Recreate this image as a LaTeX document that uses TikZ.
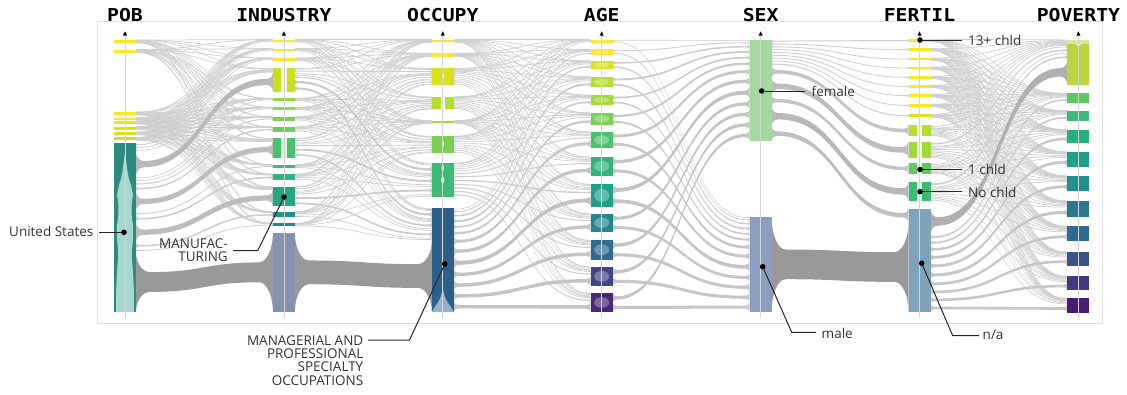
\documentclass[tikz,border=0pt]{standalone}
\usepackage{fontspec}
\setmainfont{Open Sans}
\newfontfamily\titlefont[FakeStretch=1.11]{DejaVu Sans Mono}

\definecolor{vA}{HTML}{FDE725}\definecolor{vB}{HTML}{EAE51A}\definecolor{vC}{HTML}{D8E219}
\definecolor{vD}{HTML}{C8E020}\definecolor{vE}{HTML}{B5DE2B}\definecolor{vF}{HTML}{A0DA39}
\definecolor{vG}{HTML}{8FD744}\definecolor{vH}{HTML}{7AD151}\definecolor{vI}{HTML}{6CCD5A}
\definecolor{vJ}{HTML}{5EC962}\definecolor{vK}{HTML}{4AC16D}\definecolor{vL}{HTML}{3BBB75}
\definecolor{vM}{HTML}{2FB47C}\definecolor{vN}{HTML}{28AE80}\definecolor{vO}{HTML}{22A884}
\definecolor{vP}{HTML}{1FA088}\definecolor{vQ}{HTML}{21918C}\definecolor{vR}{HTML}{25858E}
\definecolor{vS}{HTML}{2A788E}\definecolor{vT}{HTML}{2F6B8E}\definecolor{vU}{HTML}{35608D}
\definecolor{vV}{HTML}{3B528B}\definecolor{vW}{HTML}{414487}\definecolor{vX}{HTML}{453781}
\definecolor{vY}{HTML}{482878}\definecolor{vZ}{HTML}{481F70}
\definecolor{usTeal}{HTML}{2C8A7F}\definecolor{usLight}{HTML}{A9D6D0}
\definecolor{indGrey}{HTML}{8491B0}\definecolor{occBlue}{HTML}{2E5F8A}\definecolor{occLight}{HTML}{95B1CB}
\definecolor{sexF}{HTML}{A3D99C}\definecolor{sexM}{HTML}{8B9EC0}\definecolor{ferNA}{HTML}{7FA3BA}
\definecolor{povTop}{HTML}{B8D53C}

% prepare an axis list: top/bottom -> top/height/cumfrac/frac
\newcommand\prep[2]{%
  \gdef\accsum{0}%
  \foreach \ta/\tb in {#2} {\pgfmathsetmacro\tmps{\accsum+\tb-\ta}\xdef\accsum{\tmps}}%
  \global\let\acctot\accsum
  \gdef\accsum{0}\gdef\acclist{}\gdef\accsep{}%
  \foreach \ta/\tb in {#2} {%
    \pgfmathsetmacro\tmph{\tb-\ta}%
    \pgfmathsetmacro\tmpc{\accsum/\acctot}%
    \pgfmathsetmacro\tmpf{\tmph/\acctot}%
    \xdef\acclist{\acclist\accsep\ta/\tmph/\tmpc/\tmpf}%
    \gdef\accsep{,}%
    \pgfmathsetmacro\tmps{\accsum+\tmph}\xdef\accsum{\tmps}}%
  \global\let#1\acclist}

% ribbon from (#1, ya..yb) to (#2, yc..yd); #3 = pass (0 always)
\newcommand\ribbon[3]{%
  \pgfmathsetmacro\eL{\yb-\ya}%
  \pgfmathsetmacro\eR{\yd-\yc}%
  \pgfmathsetmacro\nk{max(0.7,0.33*min(\eL,\eR))}%
  \pgfmathtruncatemacro\isthick{\nk>=2 ? 2 : 1}%
  \ifnum#3=0 \def\isthick{0}\fi
  \ifnum\isthick=#3\relax
    \pgfmathsetmacro\cL{(\ya+\yb)/2}%
    \pgfmathsetmacro\cR{(\yc+\yd)/2}%
    \pgfmathsetmacro\FL{min(14,2+0.3*abs(\eL-\nk))}%
    \pgfmathsetmacro\FR{min(14,2+0.3*abs(\eR-\nk))}%
    \pgfmathsetmacro\tL{\cL-\nk/2}\pgfmathsetmacro\bL{\cL+\nk/2}%
    \pgfmathsetmacro\tR{\cR-\nk/2}\pgfmathsetmacro\bR{\cR+\nk/2}%
    \pgfmathsetmacro\xm{(#1+#2)/2}%
    \pgfmathtruncatemacro\pct{min(40,18+1.6*\nk)}%
    \fill[black!\pct] (#1,\ya) .. controls (#1,{\ya+0.55*(\tL-\ya)}) and ({#1+0.45*\FL},\tL) .. ({#1+\FL},\tL)
      .. controls (\xm,\tL) and (\xm,\tR) .. ({#2-\FR},\tR)
      .. controls ({#2-0.45*\FR},\tR) and (#2,{\yc+0.55*(\tR-\yc)}) .. (#2,\yc)
      -- (#2,\yd) .. controls (#2,{\yd+0.55*(\bR-\yd)}) and ({#2-0.45*\FR},\bR) .. ({#2-\FR},\bR)
      .. controls (\xm,\bR) and (\xm,\bL) .. ({#1+\FL},\bL)
      .. controls ({#1+0.45*\FL},\bL) and (#1,{\yb+0.55*(\bL-\yb)}) .. (#1,\yb) -- cycle;
  \fi}

\newcommand\flows[5]{%
  \foreach \lt/\lh/\lc/\lf in #3 {%
    \foreach \rt/\rh/\rc/\rf in #4 {%
      \pgfmathsetmacro\ya{\lt+\lh*\rc}%
      \pgfmathsetmacro\yb{\ya+\lh*\rf}%
      \pgfmathsetmacro\yc{\rt+\rh*\lc}%
      \pgfmathsetmacro\yd{\yc+\rh*\lf}%
      \ribbon{#1}{#2}{#5}%
    }}}

\begin{document}
\prep\Lpob{40/43,49.5/52.7,112/115,117.5/120.3,121.3/124,126.5/129.5,132/134.8,137.3/140.3,143/252}
\prep\Rind{39.5/42.3,48.5/51.2,58/60.7,68.3/91.5,98.3/100.8,107.3/109.8,116.7/120.5,126.7/131.7,138.3/157.5,164.5/168,174/180,186.5/206,211.5/217.3,223.3/226.3}
\prep\Rocc{39.5/42.3,53.3/56.5,68.3/85,96.7/109.3,120.7/123.3,136/153,162.7/196.7,208.3/240}
\prep\Locc{39.5/42.3,53.3/56.5,68.3/85,96.7/109.3,120.7/123.3,136/153,162.7/196.7,208.3/312}
\prep\Age{39.5/42.7,49.3/55,60.7/69.3,76.7/87.3,95/105,112.7/125,131.7/148.3,156.7/175.5,184/206.7,213.5/232,240/259.5,266.7/286,293/312}
\prep\Rsex{39.5/140.7,216.7/312}
\prep\Lsex{39.5/140.7}
\prep\Rfer{39/42,48.3/51,57.7/60.3,66.7/69.3,76/78.7,85/87.7,94.3/97,104/106.7,114/117.3,125/136,141.7/158.3,163.3/173.7,181.7/201,208.5/222}
\prep\Lfer{39/42,48.3/51,57.7/60.3,66.7/69.3,76/78.7,85/87.7,94.3/97,104/106.7,114/117.3,125/136,141.7/158.3,163.3/173.7,181.7/201,208.5/312}
\prep\Pov{39.5/85,93.3/102.7,110.7/120.7,129.5/142.7,151.7/166.5,175.7/191,200.7/217,226/241,251.7/265.5,276/290,298.3/312.5}
\begin{tikzpicture}[x=1pt,y=-1pt,
  lbl/.style={font=\fontsize{13.5}{16}\selectfont, text=black!80, inner sep=0},
  ttl/.style={font=\titlefont\bfseries\fontsize{17.8}{20}\selectfont, anchor=base, inner sep=0},
  dot/.style={circle, fill=black, inner sep=0, minimum size=5.6},
  ann/.style={black!85, line width=1},
  frame/.style={draw=black!13, line width=1},
  axisln/.style={draw=black!17, line width=.7}]
\useasboundingbox (0,0) rectangle (1127,394);
\fill[white] (0,0) rectangle (1127,394);
\draw[frame] (97,21) rectangle (1102,323);

% ---------- flows ----------
\foreach \pass in {1,2} {%
  \flows{136}{272.9}{\Lpob}{\Rind}{\pass}
  \flows{294.9}{431.8}{\Rind}{\Rocc}{\pass}
  \flows{453.8}{590.7}{\Locc}{\Age}{\pass}
  \flows{612.7}{749.6}{\Age}{\Rsex}{\pass}
  \flows{771.6}{908.5}{\Lsex}{\Rfer}{\pass}
  \flows{930.5}{1067.4}{\Lfer}{\Pov}{\pass}
}
\def\ya{252}\def\yb{312}\def\yc{232.7}\def\yd{312}\ribbon{136}{272.9}{0}
\def\ya{232.7}\def\yb{312}\def\yc{240}\def\yd{312}\ribbon{294.9}{431.8}{0}
\def\ya{216.7}\def\yb{312}\def\yc{222}\def\yd{312}\ribbon{771.6}{908.5}{0}

% ---------- bars ----------
\foreach \ta/\tb/\col in {40/43/vA,49.5/52.7/vA,112/115/vA,117.5/120.3/vA,121.3/124/vB,126.5/129.5/vC,132/134.8/vC,137.3/140.3/vD,143/312/usTeal}
  {\fill[\col] (114,\ta) rectangle (136,\tb);}
\foreach \ta/\tb/\col in {39.5/42.3/vA,48.5/51.2/vA,58/60.7/vA,68.3/91.5/vD,98.3/100.8/vG,107.3/109.8/vG,116.7/120.5/vH,126.7/131.7/vI,138.3/157.5/vK,164.5/168/vL,174/180/vM,186.5/206/vO,211.5/217.3/vQ,223.3/226.3/vR,232.7/312/indGrey}
  {\fill[\col] (272.9,\ta) rectangle (294.9,\tb);}
\foreach \ta/\tb/\col in {39.5/42.3/vA,53.3/56.5/vA,68.3/85/vC,96.7/109.3/vE,120.7/123.3/vF,136/153/vH,162.7/196.7/vL,208.3/312/occBlue}
  {\fill[\col] (431.8,\ta) rectangle (453.8,\tb);}
\foreach \ta/\tb/\col in {39.5/42.7/vA,49.3/55/vA,60.7/69.3/vC,76.7/87.3/vE,95/105/vF,112.7/125/vH,131.7/148.3/vK,156.7/175.5/vM,184/206.7/vP,213.5/232/vR,240/259.5/vT,266.7/286/vW,293/312/vY}
  {\fill[\col] (590.7,\ta) rectangle (612.7,\tb);
   \fill[white,opacity=.3] (601.7,{(\ta+\tb)/2}) ellipse (7.5 and {0.28*(\tb-\ta)});}
\fill[sexF] (749.6,39.5) rectangle (771.6,140.7);
\fill[sexM] (749.6,216.7) rectangle (771.6,312);
\foreach \ta/\tb/\col in {39/42/vA,48.3/51/vA,57.7/60.3/vA,66.7/69.3/vA,76/78.7/vA,85/87.7/vA,94.3/97/vA,104/106.7/vA,114/117.3/vC,125/136/vE,141.7/158.3/vF,163.3/173.7/vJ,181.7/201/vL,208.5/312/ferNA}
  {\fill[\col] (908.5,\ta) rectangle (930.5,\tb);}
\foreach \ta/\tb/\col in {39.5/85/povTop,93.3/102.7/vJ,110.7/120.7/vL,129.5/142.7/vN,151.7/166.5/vP,175.7/191/vQ,200.7/217/vS,226/241/vT,251.7/265.5/vV,276/290/vX,298.3/312.5/vZ}
  {\fill[\col] (1067.4,\ta) rectangle (1089.4,\tb);}

% ---------- bar details ----------
\fill[usLight] (125,152) .. controls (127,165) and (127,175) .. (131,185) -- (133,195)
  .. controls (131,205) and (131,215) .. (133,225) .. controls (134,240) and (131,250) .. (132,260)
  .. controls (134,280) and (134,300) .. (134,312) -- (116,312) .. controls (116,300) and (116,280) .. (118,260)
  .. controls (119,250) and (116,240) .. (117,225) .. controls (119,215) and (119,205) .. (117,195)
  -- (119,185) .. controls (123,175) and (123,165) .. (125,152) -- cycle;
\fill[white,opacity=.8] (281,68.3) rectangle (287,91.5);
\fill[white,opacity=.8] (281,138.3) rectangle (287,157.5);
\fill[white] (440.8,96.7) rectangle (444.8,109.3);
\fill[white] (442.8,76.5) ellipse (1 and 2.5);
\fill[white] (442.8,144) ellipse (1 and 3);
\fill[white] (442.8,168) ellipse (1.2 and 3);
\fill[white] (442.8,180) ellipse (1.6 and 3.5);
\fill[occLight] (431.8,312) .. controls (436,303) and (441.5,302) .. (442.8,286)
  .. controls (444.1,302) and (449.6,303) .. (453.8,312) -- cycle;
\draw[white, line width=1.2, dash pattern=on 10pt off 3pt] (442.8,216) -- (442.8,286);
\foreach \ta/\tb in {125/136,141.7/158.3,163.3/173.7,181.7/201}
  {\fill[white,opacity=.9] (917.3,\ta) rectangle (921.7,\tb);}
\fill[white,opacity=.45] (1067.4,39.5) rectangle (1089.4,43.5);
\fill[white,opacity=.8] (1075.4,43.5) -- (1081.4,43.5) -- (1078.4,47) -- cycle;

% ---------- axes ----------
\foreach \x in {125,283.9,442.8,601.7,760.6,919.5,1078.4} {
  \draw[axisln] (\x,35) -- (\x,318);
  \fill[black] (\x-2,35.5) -- (\x+2,35.5) -- (\x,31.3) -- cycle;
}
\node[ttl] (tPOB) at (125,21.5) {POB};
\node[ttl] (tIND) at (283.9,21.5) {INDUSTRY};
\node[ttl] (tOCC) at (442.8,21.5) {OCCUPY};
\node[ttl] (tAGE) at (601.7,21.5) {AGE};
\node[ttl] (tSEX) at (760.6,21.5) {SEX};
\node[ttl] (tFER) at (919.5,21.5) {FERTIL};
\node[ttl] (tPOV) at (1078.4,21.5) {POVERTY};

% ---------- annotations ----------
\node[dot] (dUS) at (124,232.3) {};
\node[lbl, anchor=base east] (tUS) at (93.5,236.7) {United States};
\coordinate (cUS) at (99,232.3);
\draw[ann] (cUS) -- (dUS);

\node[dot] (dMan) at (284,197) {};
\node[lbl, anchor=base east] (tMan1) at (228,248.3) {MANUFAC-};
\node[lbl, anchor=base east] (tMan2) at (228,261.7) {TURING};
\coordinate (cMan1) at (233,250.7);
\coordinate (cMan2) at (257.7,250.7);
\draw[ann] (cMan1) -- (cMan2) -- (dMan);

\node[dot] (dMg) at (444.8,264) {};
\node[lbl, anchor=base east] (tMg1) at (363.5,345) {MANAGERIAL AND};
\node[lbl, anchor=base east] (tMg2) at (363.5,358.3) {PROFESSIONAL};
\node[lbl, anchor=base east] (tMg3) at (363.5,371.7) {SPECIALTY};
\node[lbl, anchor=base east] (tMg4) at (363.5,385) {OCCUPATIONS};
\coordinate (cMg1) at (368,340);
\coordinate (cMg2) at (409.5,340);
\draw[ann] (cMg1) -- (cMg2) -- (dMg);

\node[dot] (dFem) at (761.7,91) {};
\coordinate (cFem) at (805,91);
\node[lbl, anchor=base west] (tFem) at (811.5,96.8) {female};
\draw[ann] (dFem) -- (cFem);

\node[dot] (d13) at (920,40) {};
\coordinate (c13) at (962,40);
\node[lbl, anchor=base west] (t13) at (968,45.3) {13+ chld};
\draw[ann] (d13) -- (c13);

\node[dot] (d1) at (920,169.5) {};
\coordinate (c1) at (962,169.5);
\node[lbl, anchor=base west] (t1) at (968,174.8) {1 chld};
\draw[ann] (d1) -- (c1);

\node[dot] (d0) at (920,191.7) {};
\coordinate (c0) at (962,191.7);
\node[lbl, anchor=base west] (t0) at (968,197) {No chld};
\draw[ann] (d0) -- (c0);

\node[dot] (dMale) at (762.7,266.7) {};
\coordinate (cMale1) at (791.7,332.3);
\coordinate (cMale2) at (816,332.3);
\node[lbl, anchor=base west] (tMale) at (821.5,338) {male};
\draw[ann] (dMale) -- (cMale1) -- (cMale2);

\node[dot] (dNA) at (921.7,263.3) {};
\coordinate (cNA1) at (952.7,335.7);
\coordinate (cNA2) at (979,335.7);
\node[lbl, anchor=base west] (tNA) at (982.5,339.5) {n/a};
\draw[ann] (dNA) -- (cNA1) -- (cNA2);
\end{tikzpicture}
\end{document}
